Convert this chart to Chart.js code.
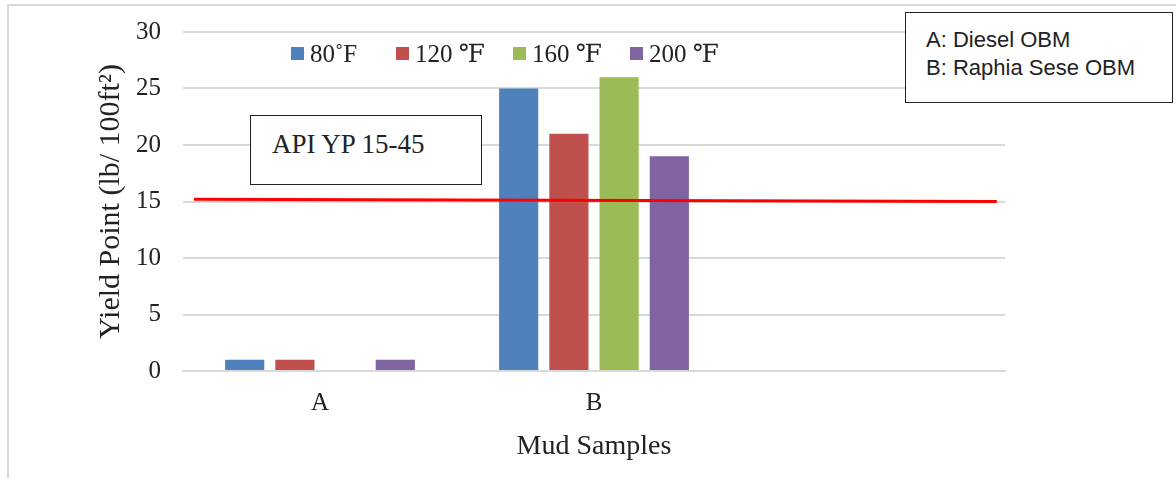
<!DOCTYPE html>
<html>
<head>
<meta charset="utf-8">
<script src="https://cdn.jsdelivr.net/npm/chart.js@4.4.1/dist/chart.umd.min.js"></script>
<style>
  html, body { margin: 0; padding: 0; background: #fff; }
  #wrap { position: relative; width: 1176px; height: 482px; overflow: hidden; }
  #frame { position: absolute; left: 7px; top: 4px; width: 1180px; height: 474px;
           border-left: 2px solid #d9d9d9; border-top: 2px solid #d9d9d9; box-sizing: border-box; }
  canvas { position: absolute; left: 0; top: 0; }
  #legend { position: absolute; left: 291px; top: 39px; display: flex; font-family: "Liberation Serif", "DejaVu Serif", serif; font-size: 25px; color: #222; }
  .item { display: flex; align-items: center; }
  .sw { width: 13px; height: 13px; margin-right: 6px; }
  #api { position: absolute; left: 250px; top: 115px; width: 232px; height: 70px; box-sizing: border-box;
         border: 1.5px solid #222; background: #fff; font-family: "Liberation Serif", "Times New Roman", serif;
         font-size: 27px; color: #222; padding: 13px 0 0 21px; }
  #note { position: absolute; left: 905px; top: 12px; width: 268px; height: 91px; box-sizing: border-box;
          border: 1.5px solid #222; background: #fff; font-family: "Liberation Sans", Arial, sans-serif;
          font-size: 22px; color: #222; padding: 13px 0 0 20px; line-height: 28px; }
</style>
</head>
<body>
<div id="wrap">
  <div id="frame"></div>
  <canvas id="c" width="1176" height="482"></canvas>
  <div id="legend"></div>
  <div id="api">API YP 15-45</div>
  <div id="note">A: Diesel OBM<br>B: Raphia Sese OBM</div>
</div>
<script>
const categories = ['A', 'B', ''];
const seriesLabels = ['80˚F', '120 ℉', '160 ℉', '200 ℉'];
const series80 = [1, 25, null];
const series120 = [1, 21, null];
const series160 = [0, 26, null];
const series200 = [1, 19, null];
const seriesColors = ['#4f81bd', '#c0504d', '#9bbb59', '#8064a2'];
const yTicks = [0, 5, 10, 15, 20, 25, 30];
// API YP reference line: x in category-index units, y in yield-point units
const apiLine = [{x: -0.46, y: 15.2}, {x: 2.47, y: 15.0}];
const legendGaps = [105, 117, 117, 117];

const seriesData = [series80, series120, series160, series200];

const datasets = seriesData.map((d, i) => ({
  type: 'bar',
  label: seriesLabels[i],
  data: d,
  backgroundColor: seriesColors[i],
  borderWidth: 0,
  categoryPercentage: 0.733,
  barPercentage: 0.78
}));

// legend built from the series arrays
const leg = document.getElementById('legend');
seriesLabels.forEach((lab, i) => {
  const it = document.createElement('div');
  it.className = 'item';
  it.style.width = legendGaps[i] + 'px';
  const sw = document.createElement('span');
  sw.className = 'sw';
  sw.style.background = seriesColors[i];
  const tx = document.createElement('span');
  tx.textContent = lab;
  it.appendChild(sw); it.appendChild(tx);
  leg.appendChild(it);
});

const apiLinePlugin = {
  id: 'apiLine',
  afterDatasetsDraw(chart) {
    const {ctx, scales: {x, y}} = chart;
    ctx.save();
    ctx.strokeStyle = '#ff0000';
    ctx.lineWidth = 3;
    ctx.beginPath();
    apiLine.forEach((p, i) => {
      const px = x.getPixelForValue(p.x), py = y.getPixelForValue(p.y);
      if (i === 0) ctx.moveTo(px, py); else ctx.lineTo(px, py);
    });
    ctx.stroke();
    ctx.restore();
  }
};

const serif = "'Liberation Serif', 'Times New Roman', serif";

new Chart(document.getElementById('c'), {
  type: 'bar',
  data: { labels: categories, datasets },
  plugins: [apiLinePlugin],
  options: {
    responsive: false,
    animation: false,
    layout: { padding: { top: 32, right: 171, left: 0, bottom: 0 } },
    plugins: { legend: { display: false }, tooltip: { enabled: false } },
    scales: {
      x: {
        grid: { display: false, drawTicks: false },
        border: { display: true, color: '#d9d9d9', width: 2 },
        ticks: { color: '#222', font: { family: serif, size: 25 }, padding: 17 },
        title: { display: true, text: 'Mud Samples', color: '#222',
                 font: { family: serif, size: 28 }, padding: { top: 0, bottom: 19 } },
        afterFit: s => { s.height = 111; s.paddingLeft = 0; s.paddingRight = 0; }
      },
      y: {
        min: 0, max: 30,
        afterBuildTicks: s => { s.ticks = yTicks.map(v => ({ value: v })); },
        grid: { color: '#d9d9d9', lineWidth: 2, drawTicks: false },
        border: { display: false },
        ticks: { color: '#222', font: { family: serif, size: 25 }, padding: 22 },
        title: { display: true, text: 'Yield Point (lb/ 100ft²)', color: '#222',
                 font: { family: serif, size: 30 }, padding: { top: 93, bottom: 0 } },
        afterFit: s => { s.width = 183; s.paddingTop = 0; s.paddingBottom = 0; }
      }
    }
  }
});
</script>
</body>
</html>
